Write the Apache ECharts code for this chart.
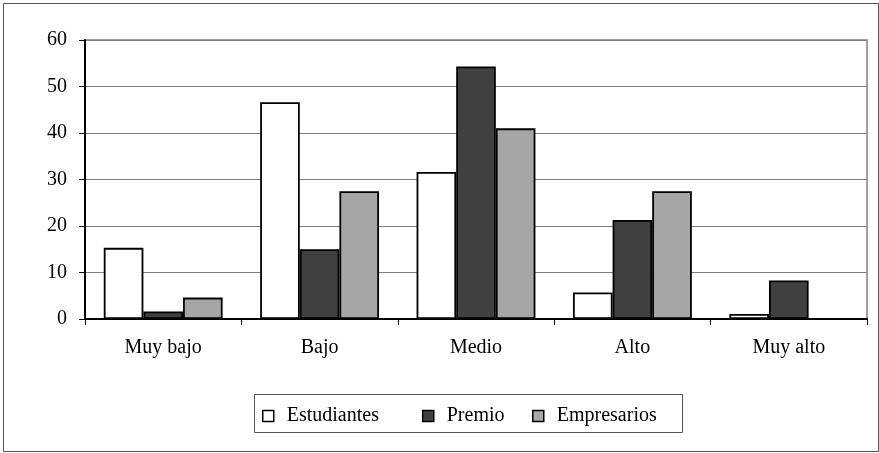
<!DOCTYPE html>
<html>
<head>
<meta charset="utf-8">
<script src="https://cdn.jsdelivr.net/npm/echarts@6/dist/echarts.min.js"></script>
<style>
  html, body { margin: 0; padding: 0; background: #fff; }
  #chart { width: 879px; height: 453px; }
</style>
</head>
<body>
<div id="chart"></div>
<script>
// Categories and percentages per group
const categories = ['Muy bajo', 'Bajo', 'Medio', 'Alto', 'Muy alto'];
const estudiantes = [15.3, 46.6, 31.6, 5.7, 1.1];
const premio = [1.6, 15.0, 54.3, 21.3, 8.3];
const empresarios = [4.6, 27.5, 41.0, 27.5, 0];
const seriesNames = ['Estudiantes', 'Premio', 'Empresarios'];
const seriesColors = ['#ffffff', '#404040', '#a6a6a6'];
const yTicks = { min: 0, max: 60, interval: 10 };

const FONT = 'Liberation Serif';
const chart = echarts.init(document.getElementById('chart'));

const values = [estudiantes, premio, empresarios];
const series = seriesNames.map((name, i) => ({
  name,
  type: 'bar',
  data: values[i],
  barGap: '0%',
  barCategoryGap: '24%',
  itemStyle: { color: seriesColors[i], borderColor: '#000', borderWidth: 1.8 },
  emphasis: { disabled: true }
}));

// one legend per entry so each can be placed on its own
const legendLeft = [262, 422, 532];
const legends = seriesNames.map((name, i) => ({
  data: [name],
  left: legendLeft[i],
  top: 406,
  padding: 0,
  itemWidth: 11,
  itemHeight: 11,
  icon: 'rect',
  selectedMode: false,
  itemStyle: { borderColor: '#000', borderWidth: 1.5 },
  textStyle: { fontFamily: FONT, fontSize: 20, color: '#000', padding: [0, 0, 0, 8] }
}));

chart.setOption({
  animation: false,
  backgroundColor: '#fff',
  textStyle: { fontFamily: FONT },
  grid: {
    left: 85, right: 12, top: 40, bottom: 134,
    show: true, borderColor: '#808080', borderWidth: 1.5, backgroundColor: 'transparent'
  },
  legend: legends,
  xAxis: {
    type: 'category',
    data: categories,
    boundaryGap: true,
    axisLine: { lineStyle: { color: '#000', width: 2 } },
    axisTick: { show: true, length: 6, lineStyle: { color: '#000', width: 1 } },
    axisLabel: { fontFamily: FONT, fontSize: 20, color: '#000', margin: 19 },
    splitLine: { show: false }
  },
  yAxis: {
    type: 'value',
    min: yTicks.min, max: yTicks.max, interval: yTicks.interval,
    axisLine: { show: true, lineStyle: { color: '#000', width: 2 } },
    axisTick: { show: true, length: 6, lineStyle: { color: '#000', width: 1 } },
    axisLabel: { fontFamily: FONT, fontSize: 20, color: '#000', margin: 18 },
    splitLine: { show: true, lineStyle: { color: '#808080', width: 1.2 } }
  },
  graphic: [
    {
      type: 'rect', silent: true, z: -1,
      shape: { x: 3.5, y: 3.5, width: 875, height: 448 },
      style: { fill: 'none', stroke: '#555', lineWidth: 1 }
    },
    {
      type: 'rect', silent: true, z: -1,
      shape: { x: 254.5, y: 394.5, width: 428, height: 38 },
      style: { fill: 'none', stroke: '#555', lineWidth: 1 }
    }
  ],
  series
});
</script>
</body>
</html>
